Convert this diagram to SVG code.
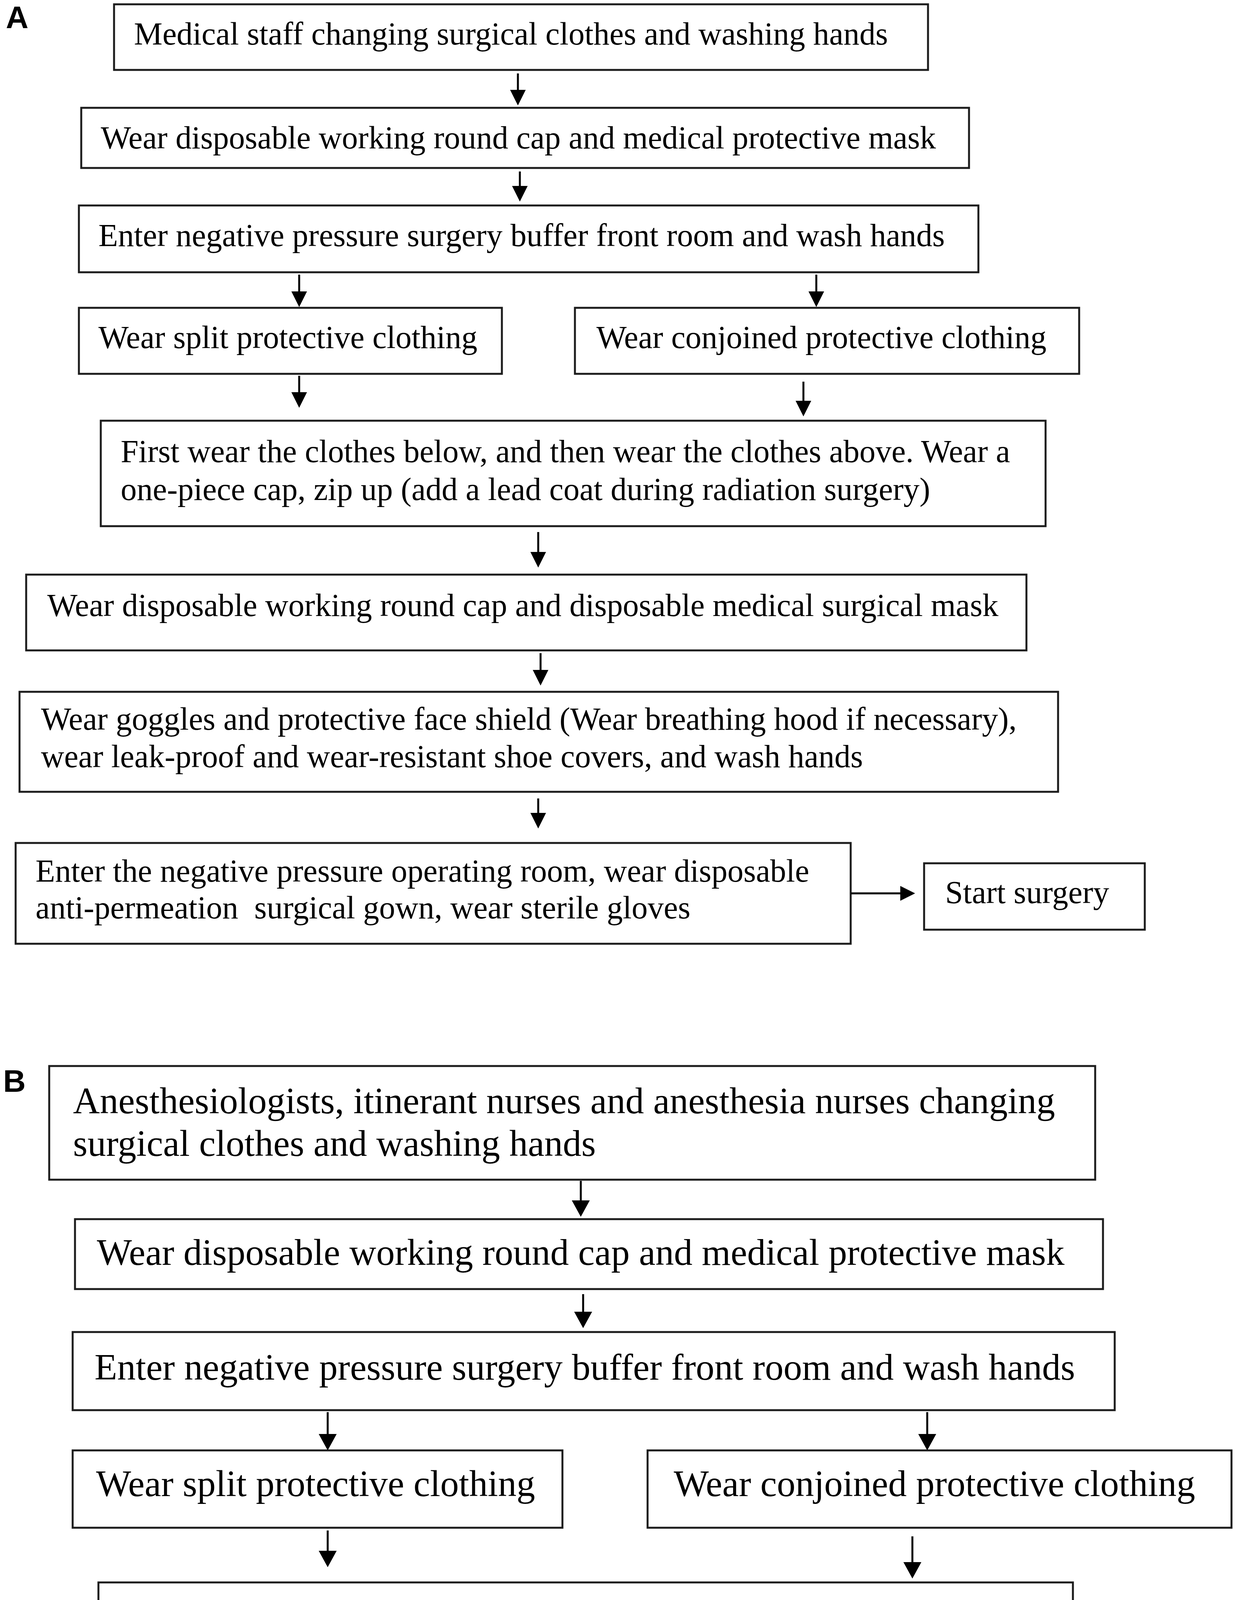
<svg xmlns="http://www.w3.org/2000/svg" width="3162" height="5602" viewBox="0 0 3162 5602">
<style>
.box{fill:#ffffff;stroke:#1c1c1c;stroke-width:5}
.ta{font-family:"Liberation Serif","Times New Roman",serif;font-size:82px;fill:#000}
.tb{font-family:"Liberation Serif","Times New Roman",serif;font-size:95px;fill:#000}
.lbl{font-family:"Liberation Sans",Arial,sans-serif;font-weight:bold;font-size:80px;fill:#000}
.ln{stroke:#000;stroke-width:5;fill:none}
.hd{fill:#000;stroke:none}
</style>
<rect width="3162" height="5602" fill="#ffffff"/>
<text class="lbl" x="15" y="72">A</text>
<text class="lbl" x="8" y="2795">B</text>

<g id="a1"><rect class="box" x="292" y="11" width="2084" height="168"/><text class="ta" x="343" y="114">Medical staff changing surgical clothes and washing hands</text></g>
<g id="a2"><rect class="box" x="208" y="276" width="2273" height="154"/><text class="ta" x="258" y="380">Wear disposable working round cap and medical protective mask</text></g>
<g id="a3"><rect class="box" x="202" y="526" width="2303" height="171"/><text class="ta" x="252" y="630">Enter negative pressure surgery buffer front room and wash hands</text></g>
<g id="a4"><rect class="box" x="202" y="788" width="1083" height="169"/><text class="ta" x="252" y="891">Wear split protective clothing</text></g>
<g id="a5"><rect class="box" x="1472" y="788" width="1291" height="169"/><text class="ta" x="1527" y="891">Wear conjoined protective clothing</text></g>
<g id="a6"><rect class="box" x="258" y="1077" width="2419" height="270"/><text class="ta" x="309" y="1183">First wear the clothes below, and then wear the clothes above. Wear a</text><text class="ta" x="309" y="1280">one-piece cap, zip up (add a lead coat during radiation surgery)</text></g>
<g id="a7"><rect class="box" x="67" y="1471" width="2561" height="194"/><text class="ta" x="121" y="1577">Wear disposable working round cap and disposable medical surgical mask</text></g>
<g id="a8"><rect class="box" x="50" y="1771" width="2659" height="256"/><text class="ta" x="105" y="1868">Wear goggles and protective face shield (Wear breathing hood if necessary),</text><text class="ta" x="105" y="1964">wear leak-proof and wear-resistant shoe covers, and wash hands</text></g>
<g id="a9"><rect class="box" x="40" y="2158" width="2138" height="258"/><text class="ta" x="91" y="2257">Enter the negative pressure operating room, wear disposable</text><text class="ta" x="91" y="2351" xml:space="preserve">anti-permeation  surgical gown, wear sterile gloves</text></g>
<g id="a10"><rect class="box" x="2366" y="2210" width="565" height="170"/><text class="ta" x="2420" y="2312">Start surgery</text></g>

<g id="b1"><rect class="box" x="126" y="2729" width="2678" height="291"/><text class="tb" x="187" y="2850">Anesthesiologists, itinerant nurses and anesthesia nurses changing</text><text class="tb" x="187" y="2959">surgical clothes and washing hands</text></g>
<g id="b2"><rect class="box" x="192" y="3121" width="2632" height="179"/><text class="tb" x="248" y="3238">Wear disposable working round cap and medical protective mask</text></g>
<g id="b3"><rect class="box" x="186" y="3410" width="2668" height="200"/><text class="tb" x="242" y="3532">Enter negative pressure surgery buffer front room and wash hands</text></g>
<g id="b4"><rect class="box" x="186" y="3713" width="1254" height="198"/><text class="tb" x="246" y="3830">Wear split protective clothing</text></g>
<g id="b5"><rect class="box" x="1658" y="3713" width="1495" height="198"/><text class="tb" x="1725" y="3830">Wear conjoined protective clothing</text></g>
<g id="b6"><rect class="box" x="252" y="4051" width="2495" height="311"/><text class="tb" x="309" y="4171">First wear the clothes below, and then wear the clothes above.</text><text class="tb" x="309" y="4282">Wear a one-piece cap, zip up</text></g>
<g id="b7"><rect class="box" x="30" y="4509" width="2965" height="221"/><text class="tb" x="91" y="4627">Wear disposable working round cap and disposable medical surgical mask</text></g>
<g id="b8"><rect class="box" x="10" y="4852" width="3082" height="301"/><text class="tb" x="71" y="4974">Wear goggles and protective face shield (Wear breathing hood if necessary),</text><text class="tb" x="71" y="5080">wear leak-proof and wear-resistant shoe covers, and wash hands</text></g>
<g id="b9"><rect class="box" x="313" y="5287" width="2481" height="305"/><text class="tb" x="373" y="5404">Wear isolation clothes and latex gloves, enter the negative</text><text class="tb" x="373" y="5513">pressure operating room, and start the operation</text></g>

<g id="connectors">
<path class="ln" d="M1326 188V232"/><polygon class="hd" points="1306,230 1346,230 1326,270"/>
<path class="ln" d="M1331 439V478"/><polygon class="hd" points="1311,476 1351,476 1331,516"/>
<path class="ln" d="M766 703V748"/><polygon class="hd" points="746,746 786,746 766,786"/>
<path class="ln" d="M2090 703V748"/><polygon class="hd" points="2070,746 2110,746 2090,786"/>
<path class="ln" d="M766 962V1006"/><polygon class="hd" points="746,1004 786,1004 766,1044"/>
<path class="ln" d="M2057 977V1028"/><polygon class="hd" points="2037,1026 2077,1026 2057,1066"/>
<path class="ln" d="M1378 1362V1415"/><polygon class="hd" points="1358,1413 1398,1413 1378,1453"/>
<path class="ln" d="M1384 1672V1717"/><polygon class="hd" points="1364,1715 1404,1715 1384,1755"/>
<path class="ln" d="M1378 2044V2083"/><polygon class="hd" points="1358,2081 1398,2081 1378,2121"/>
<path class="ln" d="M2179 2287H2307"/><polygon class="hd" points="2305,2268 2305,2306 2343,2287"/>

<path class="ln" d="M1487 3023V3075"/><polygon class="hd" points="1464,3073 1510,3073 1487,3115"/>
<path class="ln" d="M1493 3313V3360"/><polygon class="hd" points="1470,3358 1516,3358 1493,3400"/>
<path class="ln" d="M839 3615V3673"/><polygon class="hd" points="816,3671 862,3671 839,3713"/>
<path class="ln" d="M2374 3615V3673"/><polygon class="hd" points="2351,3671 2397,3671 2374,3713"/>
<path class="ln" d="M839 3918V3972"/><polygon class="hd" points="816,3970 862,3970 839,4012"/>
<path class="ln" d="M2336 3933V4001"/><polygon class="hd" points="2313,3999 2359,3999 2336,4041"/>
<path class="ln" d="M1547 4380V4445"/><polygon class="hd" points="1524,4443 1570,4443 1547,4485"/>
<path class="ln" d="M1553 4739V4794"/><polygon class="hd" points="1530,4792 1576,4792 1553,4834"/>
<path class="ln" d="M1547 5171V5221"/><polygon class="hd" points="1524,5219 1570,5219 1547,5261"/>
</g>
</svg>
